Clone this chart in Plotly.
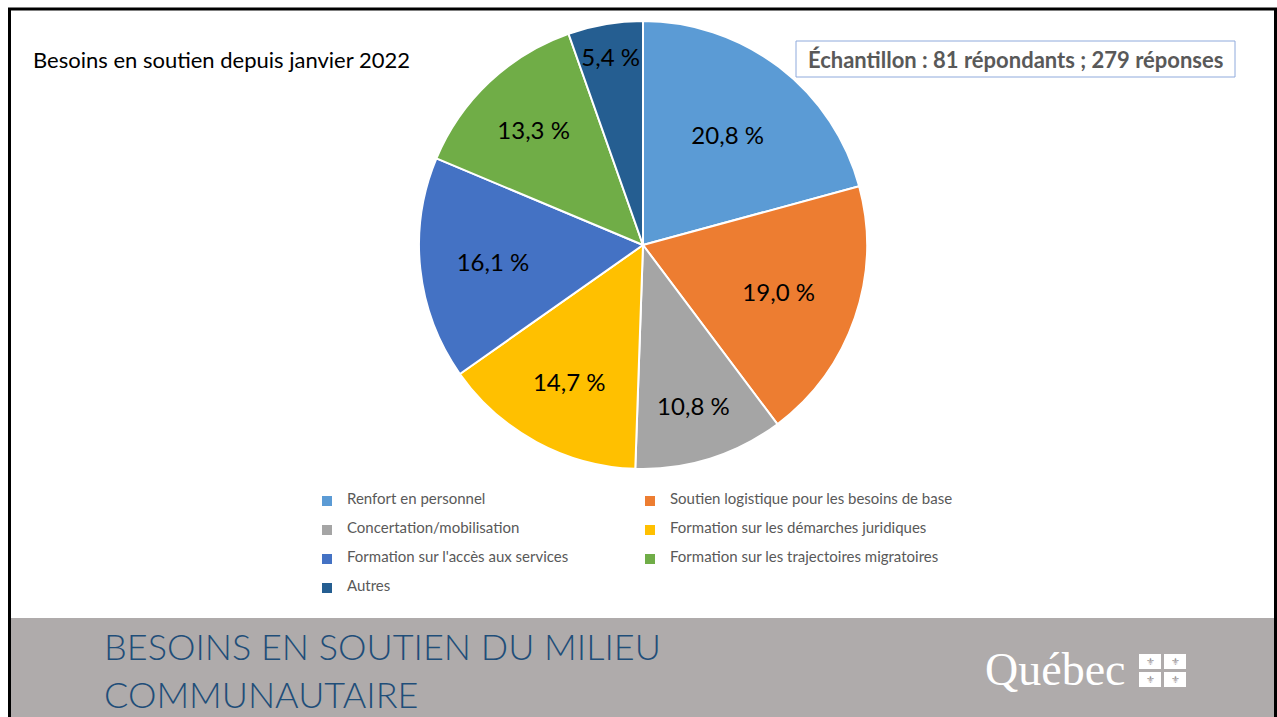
import plotly.graph_objects as go

# ---- data ----
categories = [
    "Renfort en personnel",
    "Soutien logistique pour les besoins de base",
    "Concertation/mobilisation",
    "Formation sur les démarches juridiques",
    "Formation sur l'accès aux services",
    "Formation sur les trajectoires migratoires",
    "Autres",
]
values = [20.8, 19.0, 10.8, 14.7, 16.1, 13.3, 5.4]
colors = ["#5B9BD5", "#ED7D31", "#A5A5A5", "#FFC000", "#4472C4", "#70AD47", "#255E91"]

chart_title = "Besoins en soutien depuis janvier 2022"
sample_text = "Échantillon : 81 répondants ; 279 réponses"
footer_lines = ["BESOINS EN SOUTIEN DU MILIEU", "COMMUNAUTAIRE"]

W, H = 1277, 717
ML, MR = 300, 277
PW = W - ML - MR


def px(x):
    return (x - ML) / PW


def py(y):
    return 1 - y / H


FONT = "Lato, 'Open Sans', sans-serif"

labels_txt = [f"{v:.1f}".replace(".", ",") + " %" for v in values]
legend_names = [f"&nbsp;<br><span style='font-size:15px'>{c}</span><br>&nbsp;" for c in categories]

fig = go.Figure(
    go.Pie(
        labels=legend_names,
        values=values,
        text=labels_txt,
        textinfo="text",
        textposition="inside",
        insidetextorientation="horizontal",
        textfont=dict(size=24, color="black", family=FONT),
        marker=dict(colors=colors, line=dict(color="white", width=2)),
        sort=False,
        direction="clockwise",
        rotation=0,
        hoverinfo="label+percent",
        domain=dict(x=[px(419), px(867)], y=[py(469), py(21)]),
    )
)

shapes = [
    # footer band
    dict(type="rect", xref="paper", yref="paper", x0=px(10), x1=px(1277), y0=py(618), y1=py(717) - 0.01,
         fillcolor="#AFABAB", line=dict(width=0), layer="below"),
    # sample box
    dict(type="rect", xref="paper", yref="paper", x0=px(796), x1=px(1235), y0=py(77), y1=py(41),
         fillcolor="white", line=dict(color="#8FAADC", width=1)),
    # slide frame
    dict(type="rect", xref="paper", yref="paper", x0=px(9.5), x1=px(1275.5), y0=py(740), y1=py(9),
         line=dict(color="black", width=3)),
]
# Quebec flag squares
flag_boxes = [(1139, 654), (1164, 654), (1139, 672), (1164, 672)]
for (fx, fy) in flag_boxes:
    shapes.append(dict(type="rect", xref="paper", yref="paper", x0=px(fx), x1=px(fx + 22),
                       y0=py(fy + 15), y1=py(fy), fillcolor="white", line=dict(width=0)))

annotations = [
    dict(text=chart_title, xref="paper", yref="paper", x=px(31), y=py(59), xanchor="left", yanchor="middle",
         showarrow=False, font=dict(size=22, color="black", family=FONT)),
    dict(text=f"<b>{sample_text}</b>", xref="paper", yref="paper", x=px(1015), y=py(59), xanchor="center",
         yanchor="middle", showarrow=False, font=dict(size=22, color="#595959", family=FONT)),
    dict(text=footer_lines[0], xref="paper", yref="paper", x=px(102), y=py(646), xanchor="left", yanchor="middle",
         showarrow=False, font=dict(size=36, color="#1F4E79", family=FONT, weight=300)),
    dict(text=footer_lines[1], xref="paper", yref="paper", x=px(102), y=py(694), xanchor="left", yanchor="middle",
         showarrow=False, font=dict(size=36, color="#1F4E79", family=FONT, weight=300)),
    dict(text="Québec", xref="paper", yref="paper", x=px(983), y=py(669), xanchor="left", yanchor="middle",
         showarrow=False, font=dict(size=46, color="white", family="'Liberation Serif', serif")),
]
for (fx, fy) in flag_boxes:
    annotations.append(dict(text="⚜", xref="paper", yref="paper", x=px(fx + 11), y=py(fy + 7.5),
                            xanchor="center", yanchor="middle", showarrow=False,
                            font=dict(size=10, color="#9A9696", family="DejaVu Sans")))

fig.update_layout(
    width=W,
    height=H,
    margin=dict(l=ML, r=MR, t=0, b=0, autoexpand=False),
    paper_bgcolor="white",
    plot_bgcolor="white",
    font=dict(family=FONT),
    showlegend=True,
    legend=dict(
        orientation="h",
        entrywidth=278,
        x=px(307),
        y=py(481.5),
        xanchor="left",
        yanchor="top",
        font=dict(size=6.667, color="#595959", family=FONT),
        bgcolor="rgba(0,0,0,0)",
    ),
    uniformtext=dict(mode="show", minsize=24),
    shapes=shapes,
    annotations=annotations,
)

fig.write_html(
    "out.html",
    config={"displayModeBar": False},
    post_script="document.body.style.margin='0';document.body.style.overflow='hidden';",
)
